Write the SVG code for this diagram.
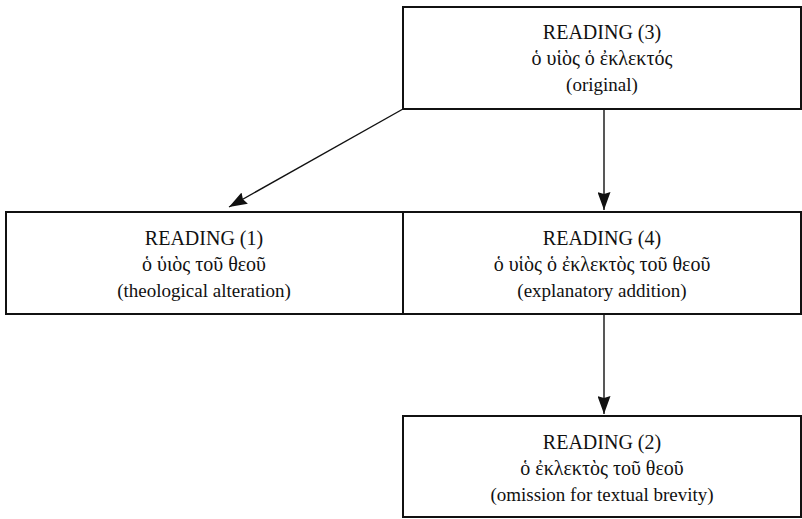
<svg xmlns="http://www.w3.org/2000/svg" width="802" height="519" viewBox="0 0 802 519">
<style>
rect.box{fill:#fff;stroke:#111;stroke-width:2}
text{font-family:"Liberation Serif","DejaVu Serif",serif;font-size:19px;fill:#111;text-anchor:middle}
text.hd{font-size:20px}
text.gk{font-size:20px}
.conn line{stroke:#111;stroke-width:1.4;fill:none}
</style>
<defs>
<marker id="ah" viewBox="0 0 18 13" refX="18" refY="6.5" markerWidth="18" markerHeight="13" markerUnits="userSpaceOnUse" orient="auto">
<path d="M0,0 L18,6.5 L0,13 L2,6.5 Z" fill="#111"/>
</marker>
</defs>
<g id="connectors" class="conn">
<line x1="403" y1="109" x2="229" y2="207" marker-end="url(#ah)"/>
<line x1="604" y1="109" x2="604" y2="210" marker-end="url(#ah)"/>
<line x1="604" y1="314" x2="604" y2="414" marker-end="url(#ah)"/>
</g>
<g id="reading3">
<rect class="box" x="403" y="7" width="398" height="102"/>
<text class="hd" x="602" y="39">READING (3)</text>
<text class="gk" x="602" y="65">ὁ υἱὸς ὁ ἐκλεκτός</text>
<text x="602" y="91">(original)</text>
</g>
<g id="reading1">
<rect class="box" x="6" y="212" width="397" height="102"/>
<text class="hd" x="204" y="245">READING (1)</text>
<text class="gk" x="204" y="271">ὁ ὑιὸς τοῦ θεοῦ</text>
<text x="204" y="297">(theological alteration)</text>
</g>
<g id="reading4">
<rect class="box" x="403" y="212" width="398" height="102"/>
<text class="hd" x="602" y="245">READING (4)</text>
<text class="gk" x="602" y="271">ὁ υἱὸς ὁ ἐκλεκτὸς τοῦ θεοῦ</text>
<text x="602" y="297">(explanatory addition)</text>
</g>
<g id="reading2">
<rect class="box" x="403" y="416" width="398" height="101"/>
<text class="hd" x="602" y="449">READING (2)</text>
<text class="gk" x="602" y="475">ὁ ἐκλεκτὸς τοῦ θεοῦ</text>
<text x="602" y="501">(omission for textual brevity)</text>
</g>
</svg>
